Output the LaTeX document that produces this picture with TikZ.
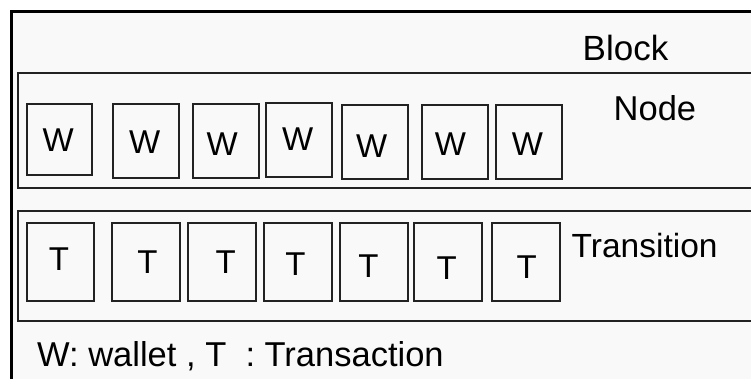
\documentclass[tikz,border=0pt]{standalone}
\usepackage{fontspec}
\setmainfont{Liberation Sans}
\definecolor{panel}{HTML}{F9F9F9}
\definecolor{edge}{HTML}{222222}
\begin{document}
\begin{tikzpicture}[x=1pt,y=-1pt,
  blockframe/.style={draw=black,line width=3pt,fill=panel},
  rowframe/.style={draw=edge,line width=1.5pt,fill=panel},
  cell/.style={draw=edge,line width=1.5pt,fill=panel},
  letter/.style={inner sep=0pt,font=\fontsize{33}{36}\selectfont},
  caption/.style={inner sep=0pt,anchor=base west,font=\fontsize{34.5}{38}\selectfont}]
\useasboundingbox (0,0) rectangle (751,378);
\clip (0,0) rectangle (751,378);
\fill[white] (0,0) rectangle (751,378);
% outer block
\draw[blockframe] (11,11) rectangle (780,400);
% rows
\draw[rowframe] (18,73) rectangle (770,188);
\draw[rowframe] (18,211) rectangle (770,321);
% wallet cells
\foreach \i/\xa/\ya/\xb/\yb/\cx/\cy in {
  1/27/104/92/175/58.3/140.5,
  2/113/104/179/178/144.7/142.5,
  3/193/104/259/178/222.2/144.2,
  4/266/103/332/177/297.7/139.2,
  5/342/105/408/179/371.7/146.5,
  6/422/105/488/179/450.5/144.2,
  7/496/105/562/179/527.5/144.2}{
  \draw[cell] (\xa,\ya) rectangle (\xb,\yb);
  \node[letter] (w\i) at (\cx,\cy) {W};
}
% transaction cells
\foreach \i/\xa/\xb/\cx/\cy in {
  1/27/94/59/258.8,
  2/112/180/147.5/262,
  3/188/256/225.8/262,
  4/264/332/295.5/264,
  5/340/408/368.5/266,
  6/414/482/446.7/267.8,
  7/492/560/526.7/267}{
  \draw[cell] (\xa,223) rectangle (\xb,301);
  \node[letter] (t\i) at (\cx,\cy) {T};
}
% labels
\node[caption,font=\fontsize{35}{38}\selectfont] (block) at (582.5,60) {Block};
\node[caption] (nodelabel) at (613.5,120) {Node};
\node[caption,font=\fontsize{33.5}{37}\selectfont] (trans) at (571.5,257) {Transition};
\node[caption] (legend) at (37,366) {W: wallet , T \ : Transaction};
\end{tikzpicture}
\end{document}
